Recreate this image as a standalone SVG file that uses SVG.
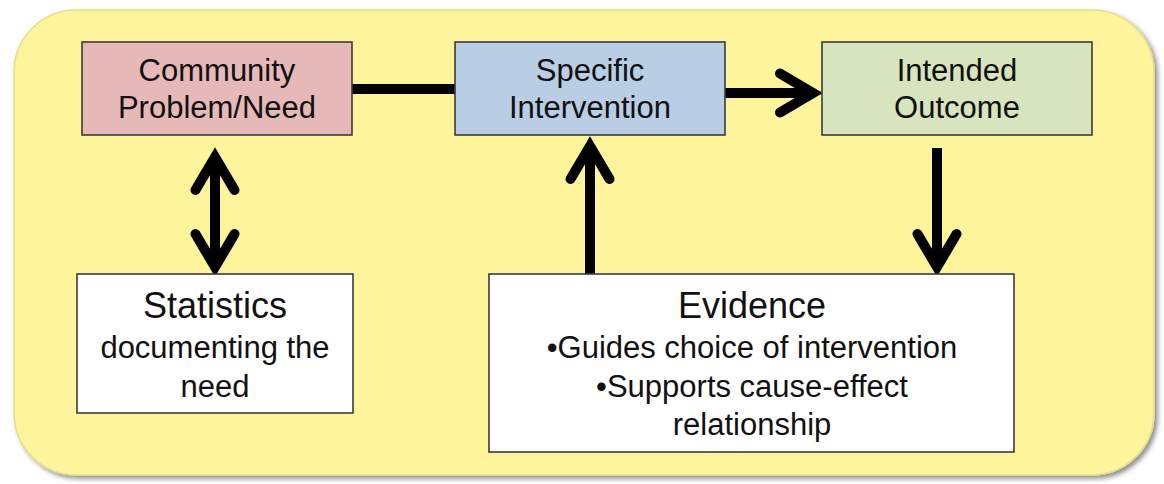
<svg xmlns="http://www.w3.org/2000/svg" width="1164" height="484" viewBox="0 0 1164 484">
  <style>
    .box { stroke: #3a3a3a; stroke-width: 1.6; }
    .lbl { font-family: "Liberation Sans", Arial, sans-serif; font-size: 31px; fill: #111; text-anchor: middle; }
    .ttl { font-size: 36px; }
    .conn { fill: none; stroke: #000; stroke-width: 10; stroke-linecap: butt; }
  </style>
  <defs>
    <marker id="chev" markerUnits="userSpaceOnUse" viewBox="-50 -30 70 60" markerWidth="70" markerHeight="60" refX="0" refY="0" orient="auto-start-reverse" overflow="visible">
      <path d="M -33 -19.5 L 0 0 L -33 19.5" fill="none" stroke="#000" stroke-width="10" stroke-linecap="round" stroke-linejoin="miter" stroke-miterlimit="10"/>
    </marker>
    <filter id="sh" x="-5%" y="-5%" width="110%" height="115%">
      <feGaussianBlur in="SourceAlpha" stdDeviation="2.5"/>
      <feOffset dx="3" dy="3" result="b"/>
      <feComponentTransfer><feFuncA type="linear" slope="0.45"/></feComponentTransfer>
      <feMerge><feMergeNode/><feMergeNode in="SourceGraphic"/></feMerge>
    </filter>
  </defs>
  <rect width="1164" height="484" fill="#ffffff"/>
  <g id="background">
    <rect x="14" y="10" width="1140" height="465" rx="62" ry="62" fill="#FEF49C" stroke="#E8DC8C" stroke-width="1.5" filter="url(#sh)"/>
  </g>
  <g id="connectors">
    <path class="conn" d="M 352 89 L 455 89"/>
    <path class="conn" d="M 725 93 L 813 93" marker-end="url(#chev)"/>
    <path class="conn" d="M 215 157 L 215 267" marker-start="url(#chev)" marker-end="url(#chev)"/>
    <path class="conn" d="M 590 274 L 590 146" marker-end="url(#chev)"/>
    <path class="conn" d="M 937 148 L 937 267" marker-end="url(#chev)"/>
  </g>
  <g id="community">
    <rect class="box" x="82" y="42" width="270" height="93" fill="#E6B9B8"/>
    <text class="lbl" x="217" y="81">Community</text>
    <text class="lbl" x="217" y="118">Problem/Need</text>
  </g>
  <g id="intervention">
    <rect class="box" x="455" y="42" width="270" height="93" fill="#B9CDE5"/>
    <text class="lbl" x="590" y="81">Specific</text>
    <text class="lbl" x="590" y="118">Intervention</text>
  </g>
  <g id="outcome">
    <rect class="box" x="822" y="42" width="270" height="93" fill="#D7E4BD"/>
    <text class="lbl" x="957" y="81">Intended</text>
    <text class="lbl" x="957" y="118">Outcome</text>
  </g>
  <g id="statistics">
    <rect class="box" x="77" y="274" width="276" height="139" fill="#ffffff"/>
    <text class="lbl ttl" x="215" y="318">Statistics</text>
    <text class="lbl" x="215" y="358">documenting the</text>
    <text class="lbl" x="215" y="397">need</text>
  </g>
  <g id="evidence">
    <rect class="box" x="489" y="274" width="525" height="178" fill="#ffffff"/>
    <text class="lbl ttl" x="752" y="318">Evidence</text>
    <text class="lbl" x="752" y="358">•Guides choice of intervention</text>
    <text class="lbl" x="752" y="397">•Supports cause-effect</text>
    <text class="lbl" x="752" y="435">relationship</text>
  </g>
</svg>
